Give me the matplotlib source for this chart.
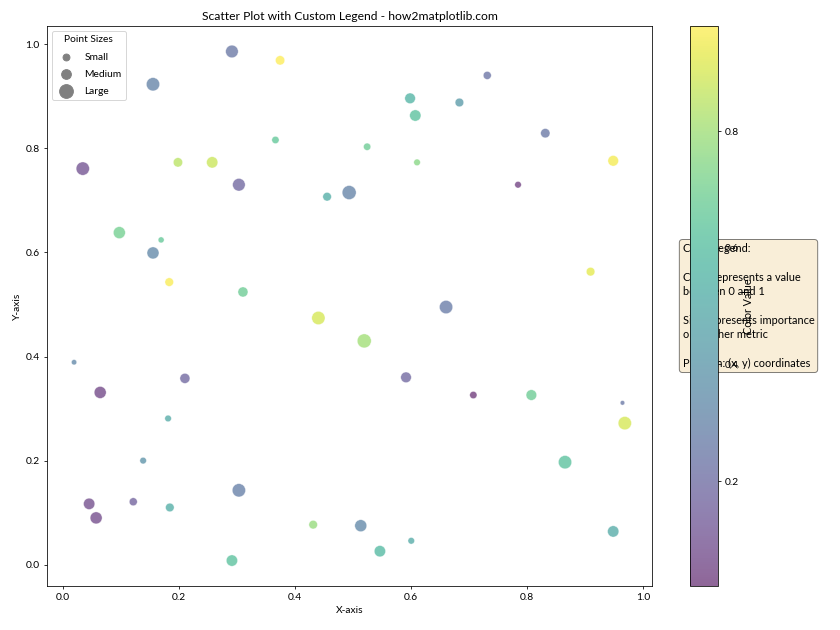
import matplotlib
matplotlib.use('Agg')
import matplotlib.pyplot as plt
import numpy as np

plt.rcParams['font.family'] = ['Lato', 'DejaVu Sans']

# point positions
x_vals = [0.291, 0.374, 0.155, 0.731, 0.598, 0.683, 0.607, 0.831, 0.366, 0.524,
          0.610, 0.034, 0.198, 0.257, 0.303, 0.784, 0.948, 0.455, 0.493, 0.097,
          0.169, 0.155, 0.183, 0.310, 0.440, 0.660, 0.519, 0.909, 0.019, 0.064,
          0.210, 0.591, 0.707, 0.807, 0.964, 0.968, 0.865, 0.138, 0.045, 0.057,
          0.121, 0.184, 0.303, 0.431, 0.291, 0.513, 0.546, 0.600, 0.948, 0.181]
y_vals = [0.986, 0.969, 0.923, 0.940, 0.896, 0.888, 0.863, 0.829, 0.816, 0.803,
          0.773, 0.761, 0.773, 0.773, 0.730, 0.730, 0.776, 0.707, 0.715, 0.638,
          0.624, 0.599, 0.543, 0.524, 0.474, 0.495, 0.430, 0.563, 0.389, 0.331,
          0.358, 0.360, 0.326, 0.326, 0.311, 0.272, 0.197, 0.200, 0.117, 0.090,
          0.121, 0.110, 0.143, 0.077, 0.008, 0.075, 0.026, 0.046, 0.064, 0.281]
sizes = [168, 92, 187, 68, 119, 78, 135, 92, 56, 56,
         46, 187, 92, 135, 168, 46, 119, 78, 207, 152,
         38, 152, 78, 106, 187, 187, 207, 78, 30, 152,
         106, 119, 56, 119, 22, 187, 187, 46, 135, 152,
         68, 78, 187, 78, 135, 152, 135, 46, 135, 46]
colors = [0.25, 0.98, 0.30, 0.23, 0.55, 0.42, 0.62, 0.25, 0.65, 0.68,
          0.75, 0.10, 0.85, 0.88, 0.18, 0.04, 0.96, 0.52, 0.30, 0.70,
          0.66, 0.33, 0.97, 0.68, 0.90, 0.27, 0.80, 0.93, 0.33, 0.06,
          0.18, 0.18, 0.02, 0.68, 0.25, 0.90, 0.62, 0.38, 0.08, 0.07,
          0.16, 0.52, 0.28, 0.78, 0.62, 0.33, 0.58, 0.50, 0.50, 0.50]

legend_sizes = [50, 100, 200]
legend_labels = ['Small', 'Medium', 'Large']

info_text = ('Color Legend:\n\nColor represents a value\nbetween 0 and 1\n\n'
             'Size represents importance\nor another metric\n\n'
             'Position: (x, y) coordinates')

fig = plt.figure(figsize=(12, 9), dpi=70)
ax = fig.add_axes([0.0554, 0.0698, 0.7212, 0.8889])
cax = fig.add_axes([0.822, 0.0698, 0.033, 0.8889])

scatter = ax.scatter(x_vals, y_vals, s=sizes, c=colors, cmap='viridis',
                     alpha=0.6, edgecolors='white', linewidths=0.6)

# legend for sizes
for s, lab in zip(legend_sizes, legend_labels):
    ax.scatter([], [], s=s, c='gray', label=lab)
ax.legend(title='Point Sizes', loc='upper left', labelspacing=0.8,
          fontsize=10.5, title_fontsize=10.5)

cbar = fig.colorbar(scatter, cax=cax)
cbar.set_label('Color Value', fontsize=11)

ax.text(1.05, 0.5, info_text, transform=ax.transAxes, fontsize=11.3,
        linespacing=1.38, va='center',
        bbox=dict(boxstyle='round', facecolor='wheat', alpha=0.5))

ax.set_title('Scatter Plot with Custom Legend - how2matplotlib.com', fontsize=12.5)
ax.set_xlabel('X-axis', fontsize=10.5)
ax.set_ylabel('Y-axis', fontsize=10.5)
ax.tick_params(labelsize=10.5)
cbar.ax.tick_params(labelsize=10.5)

fig.savefig('out.png', dpi=70)
